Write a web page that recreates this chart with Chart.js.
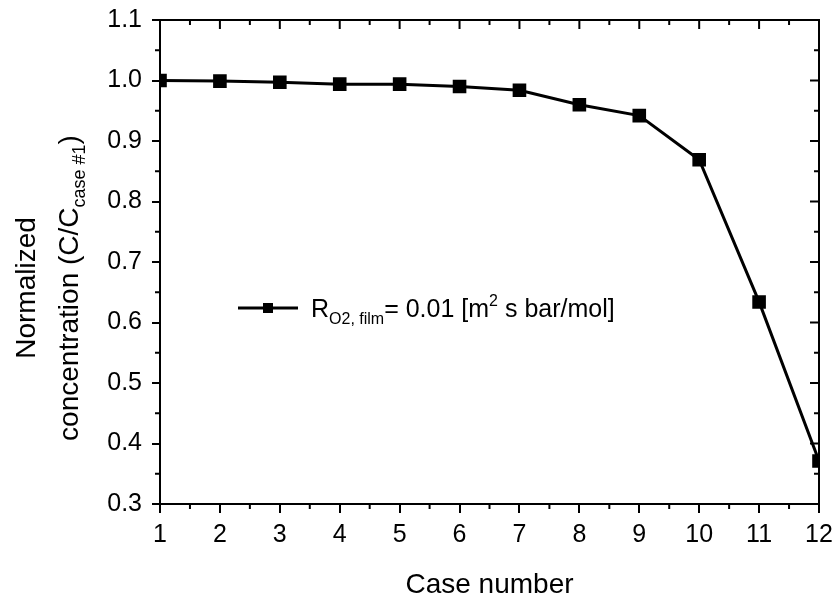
<!DOCTYPE html>
<html lang="en">
<head>
    <meta charset="UTF-8">
    <title>Normalized concentration</title>
    <script src="https://cdn.jsdelivr.net/npm/chart.js"></script>
    <style>
        html, body { margin: 0; padding: 0; background: #fff; }
        #wrap { width: 836px; height: 603px; }
    </style>
</head>
<body>
    <div id="wrap"><canvas id="conc-chart"></canvas></div>

    <script>
        // data
        const caseNumbers = [1, 2, 3, 4, 5, 6, 7, 8, 9, 10, 11, 12];
        const normConc = [1.000, 0.999, 0.997, 0.994, 0.994, 0.990, 0.984, 0.960, 0.942, 0.869, 0.634, 0.371];
        const yTicks = [0.3, 0.4, 0.5, 0.6, 0.7, 0.8, 0.9, 1.0, 1.1];

        const FONT = '"Liberation Sans", Arial, sans-serif';

        // draw text pieces with sub/superscripts, starting at x (left), baseline y
        function richWidth(ctx, parts) {
            let w = 0;
            parts.forEach(p => {
                ctx.font = p.size + 'px ' + FONT;
                w += ctx.measureText(p.t).width;
            });
            return w;
        }
        function drawRich(ctx, parts, x, y) {
            parts.forEach(p => {
                ctx.font = p.size + 'px ' + FONT;
                ctx.fillText(p.t, x, y + (p.dy || 0));
                x += ctx.measureText(p.t).width;
            });
        }

        // mirrored axes, minor ticks, titles and legend
        const framePlugin = {
            id: 'frame',
            afterDraw(chart) {
                const ctx = chart.ctx;
                const a = chart.chartArea;
                const xs = chart.scales.x, ys = chart.scales.y;
                ctx.save();
                ctx.strokeStyle = '#000';
                ctx.fillStyle = '#000';
                ctx.lineWidth = 2;

                // top and right border
                ctx.beginPath();
                ctx.moveTo(a.left, a.top);
                ctx.lineTo(a.right, a.top);
                ctx.lineTo(a.right, a.bottom);
                ctx.stroke();

                ctx.beginPath();
                for (let v = xs.min; v <= xs.max + 1e-9; v += 0.5) {
                    const px = xs.getPixelForValue(v);
                    const major = Math.abs(v - Math.round(v)) < 1e-9;
                    if (!major) {
                        ctx.moveTo(px, a.bottom);
                        ctx.lineTo(px, a.bottom + 5);
                    }
                    ctx.moveTo(px, a.top);
                    ctx.lineTo(px, a.top + (major ? 9 : 5));
                }
                for (let i = 0; i < yTicks.length; i++) {
                    const py = ys.getPixelForValue(yTicks[i]);
                    ctx.moveTo(a.right, py);
                    ctx.lineTo(a.right - 9, py);
                    if (i < yTicks.length - 1) {
                        const pm = ys.getPixelForValue((yTicks[i] + yTicks[i + 1]) / 2);
                        ctx.moveTo(a.left, pm);
                        ctx.lineTo(a.left - 5, pm);
                        ctx.moveTo(a.right, pm);
                        ctx.lineTo(a.right - 5, pm);
                    }
                }
                ctx.stroke();

                // axis titles
                ctx.textBaseline = 'alphabetic';
                ctx.textAlign = 'left';
                const xt = [{ t: 'Case number', size: 28 }];
                drawRich(ctx, xt, (a.left + a.right) / 2 - richWidth(ctx, xt) / 2, 593);

                ctx.save();
                ctx.translate(0, 288);
                ctx.rotate(-Math.PI / 2);
                const l1 = [{ t: 'Normalized', size: 28 }];
                drawRich(ctx, l1, -richWidth(ctx, l1) / 2, 35);
                const l2 = [
                    { t: 'concentration (C/C', size: 28 },
                    { t: 'case #1', size: 18, dy: 7 },
                    { t: ')', size: 28 }
                ];
                drawRich(ctx, l2, -richWidth(ctx, l2) / 2, 78);
                ctx.restore();

                // legend
                const ly = 308;
                ctx.lineWidth = 3;
                ctx.beginPath();
                ctx.moveTo(238, ly);
                ctx.lineTo(298, ly);
                ctx.stroke();
                ctx.fillRect(268 - 5, ly - 5, 10, 10);
                const lg = [
                    { t: 'R', size: 25 },
                    { t: 'O2, film', size: 16, dy: 7 },
                    { t: '= 0.01 [m', size: 25 },
                    { t: '2', size: 16, dy: -11 },
                    { t: ' s bar/mol]', size: 25 }
                ];
                drawRich(ctx, lg, 311, ly + 9);

                ctx.restore();
            }
        };

        const ctx = document.getElementById('conc-chart').getContext('2d');
        new Chart(ctx, {
            type: 'line',
            data: {
                datasets: [{
                    label: 'R O2, film = 0.01 [m2 s bar/mol]',
                    data: caseNumbers.map((c, i) => ({ x: c, y: normConc[i] })),
                    borderColor: '#000',
                    backgroundColor: '#000',
                    borderWidth: 3,
                    pointStyle: 'rect',
                    pointRadius: 7.5,
                    pointHoverRadius: 7.5,
                    tension: 0
                }]
            },
            options: {
                responsive: true,
                maintainAspectRatio: false,
                animation: false,
                layout: { padding: { top: 20, right: 17, left: 0, bottom: 0 } },
                plugins: {
                    legend: { display: false },
                    tooltip: { enabled: false }
                },
                scales: {
                    x: {
                        type: 'linear',
                        min: 1,
                        max: 12,
                        afterFit: s => { s.height = 99; s.paddingLeft = 0; s.paddingRight = 0; },
                        ticks: {
                            stepSize: 1,
                            color: '#000',
                            padding: 7,
                            font: { family: FONT, size: 25 }
                        },
                        grid: { drawOnChartArea: false, drawTicks: true, tickLength: 9, color: '#000', lineWidth: 2 },
                        border: { display: true, color: '#000', width: 2 }
                    },
                    y: {
                        min: 0.3,
                        max: 1.1,
                        afterFit: s => { s.width = 160; s.paddingTop = 0; s.paddingBottom = 0; },
                        afterBuildTicks: s => { s.ticks = yTicks.map(v => ({ value: v })); },
                        ticks: {
                            color: '#000',
                            padding: 10,
                            font: { family: FONT, size: 25 },
                            callback: v => v.toFixed(1)
                        },
                        grid: { drawOnChartArea: false, drawTicks: true, tickLength: 8, color: '#000', lineWidth: 2 },
                        border: { display: true, color: '#000', width: 2 }
                    }
                }
            },
            plugins: [framePlugin]
        });
    </script>
</body>
</html>
